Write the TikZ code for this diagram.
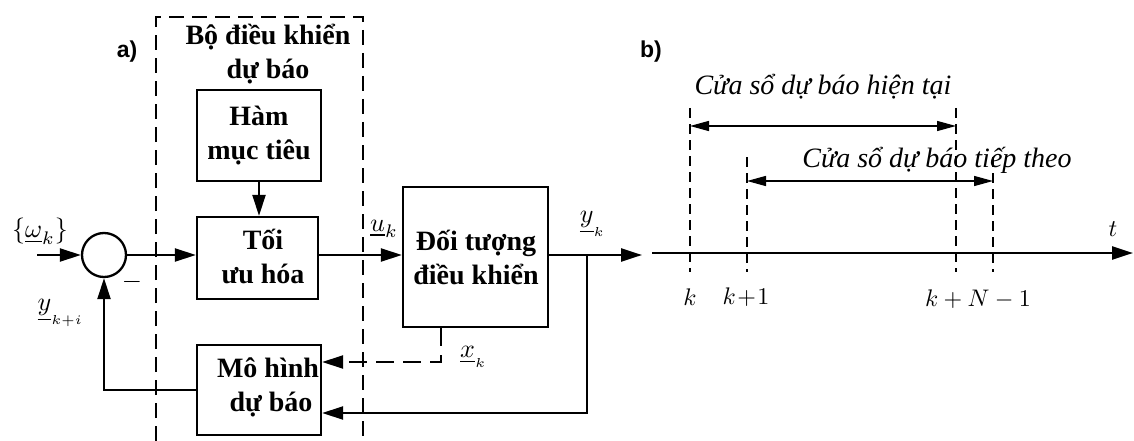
\documentclass[tikz,border=0pt]{standalone}
\usepackage{fontspec}
\setmainfont{Liberation Serif}
\newfontfamily\sansf{Liberation Sans}
\usetikzlibrary{arrows.meta}
\newcommand\Mbig[1]{\scalebox{2.6}{$#1$}}
\newcommand\Msml[1]{\scalebox{2.4}{$#1$}}
\begin{document}
\begin{tikzpicture}[x=1pt,y=-1pt,
  blk/.style={draw, line width=2.3pt, inner sep=0pt},
  btxt/.style={font=\fontsize{28}{34}\selectfont\bfseries, align=center, inner sep=0pt},
  wire/.style={line width=2.3pt},
  arr/.style={wire, -{Triangle[length=21pt,width=13pt]}},
  mth/.style={inner sep=0pt},
  itl/.style={font=\fontsize{28}{32}\selectfont\itshape, inner sep=0pt},
  lbl/.style={font=\fontsize{23}{26}\selectfont\sansf\bfseries, inner sep=0pt},
  vdash/.style={line width=1.4pt, dash pattern=on 10pt off 6pt},
  dbl/.style={line width=1.4pt, {Triangle[length=19pt,width=10pt]}-{Triangle[length=19pt,width=10pt]}},
]
\useasboundingbox (0,0) rectangle (1134,441);

% controller dashed frame
\draw[line width=2.3pt, dash pattern=on 15pt off 8pt] (156,441) -- (156,17) -- (363,17) -- (363,441);
\node[lbl] (la) at (127,52) {a)};
\node[btxt] (title) at (268,54) {Bộ điều khiển\\dự báo};

% blocks
\node[blk, minimum width=124pt, minimum height=91pt] (ham) at (259,135.5) {};
\node[btxt] (hamt) at (259,136) {Hàm\\mục tiêu};
\node[blk, minimum width=121pt, minimum height=82pt] (toi) at (257.5,258) {};
\node[btxt] (toit) at (263,256) {Tối\\ưu hóa};
\node[blk, minimum width=145pt, minimum height=140pt] (doi) at (475.5,257) {};
\node[btxt] (doit) at (476,257) {Đối tượng\\điều khiển};
\node[blk, minimum width=124pt, minimum height=90pt] (mo) at (259,390) {};
\node[btxt] (mot) at (268,387) {Mô hình\\\hspace*{6pt}dự báo};
\node[draw, circle, line width=2.3pt, minimum size=44pt, inner sep=0pt] (sum) at (104,255) {};

% connectors
\coordinate (in) at (37,255);
\draw[arr] (in) -- (sum.west);
\draw[arr] (sum.east) -- (toi.west |- sum.east);
\draw[arr] (ham.south) -- (ham.south |- toi.north);
\draw[arr] (toi.east |- sum.east) -- (doi.west |- sum.east);
\coordinate (yout) at (642,255);
\draw[arr] (doi.east |- sum.east) -- (yout);
\coordinate (br) at (587,255);
\coordinate (fb) at (587,413);
\draw[arr] (br) -- (fb) -- (fb -| mo.east);
\coordinate (xk) at (441,362);
\draw[arr, dash pattern=on 18pt off 9pt] (doi.south -| xk) -- (xk) -- (xk -| mo.east);
\draw[arr] (mo.west) -| (sum.south);

% labels
\node[mth] (w) at (40,231) {\Mbig{\{\underline{\omega}_k\}}};
\node[mth] (u) at (384,229) {\Mbig{\underline{u}_k}};
\node[mth] (y) at (593,224) {\Mbig{\underline{y}_{_k}}};
\node[mth] (yki) at (61,313) {\Mbig{\underline{y}_{_{k+i}}}};
\node[mth] (x) at (474,357) {\Mbig{\underline{x}_{_k}}};
\node[mth] (minus) at (132,282) {\Mbig{-}};

% panel b
\node[lbl] (lb) at (651,52) {b)};
\coordinate (ax0) at (652,253);
\coordinate (ax1) at (1133,253);
\draw[line width=2.5pt, -{Triangle[length=21pt,width=13pt]}] (ax0) -- (ax1);
\draw[vdash] (690,108) -- (690,272);
\draw[vdash] (747,157) -- (747,272);
\draw[vdash] (956,108) -- (956,272);
\draw[vdash] (993,157) -- (993,272);
\coordinate (a1) at (690,126); \coordinate (a2) at (956,126);
\coordinate (b1) at (747,181); \coordinate (b2) at (993,181);
\draw[dbl] (a1) -- (a2);
\draw[dbl] (b1) -- (b2);
\node[itl] (c1) at (823,87) {Cửa sổ dự báo hiện tại};
\node[itl] (c2) at (937,160) {Cửa sổ dự báo tiếp theo};
\node[mth] (t) at (1113,229) {\Msml{t}};
\node[mth] (k0) at (690,297) {\Msml{k}};
\node[mth] (k1) at (746,297) {\Msml{k\mkern1mu{+}\mkern1mu1}};
\node[mth] (kn) at (978,299) {\Msml{k+N-1}};
\end{tikzpicture}
\end{document}
